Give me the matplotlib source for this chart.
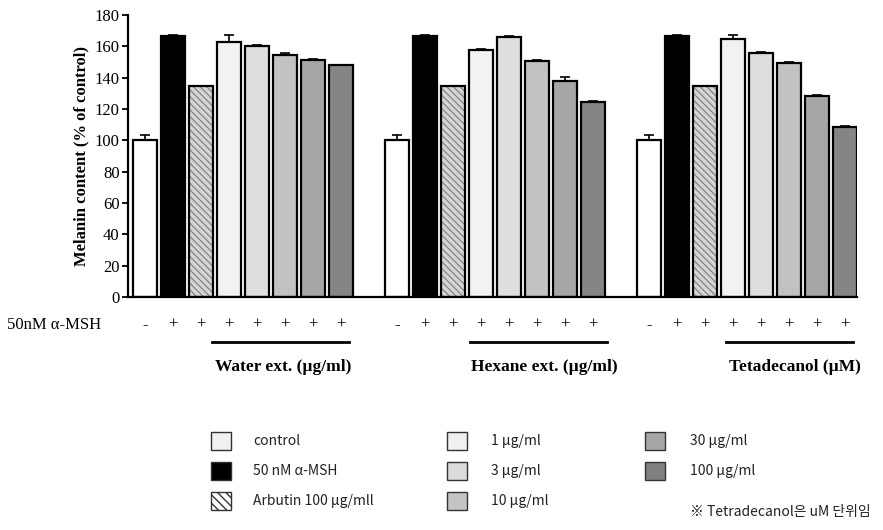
import matplotlib.pyplot as plt
import numpy as np
from matplotlib.patches import Rectangle
from matplotlib.transforms import blended_transform_factory

# data
treatments = ["control", "50 nM α-MSH", "Arbutin 100 µg/mll",
              "1 µg/ml", "3 µg/ml", "10 µg/ml", "30 µg/ml", "100 µg/ml"]
groups = ["Water ext. (µg/ml)", "Hexane ext. (µg/ml)", "Tetadecanol (µM)"]
water = [100, 166.5, 134.5, 163, 160.5, 154.5, 151.5, 148]
hexane = [100, 166.5, 134.5, 157.5, 166, 150.5, 138, 124.5]
tetra = [100, 166.5, 134.5, 164.5, 156, 149.5, 128, 108.5]
water_err = [3.5, 0.5, 0.5, 4.5, 0.3, 1.5, 0.3, 0.3]
hexane_err = [3.5, 0.5, 0.5, 0.5, 0.3, 0.5, 2.5, 0.5]
tetra_err = [3.5, 0.5, 0.5, 2.5, 0.3, 0.3, 1.0, 0.5]
msh_signs = ["-", "+", "+", "+", "+", "+", "+", "+"]
yticks = [0, 20, 40, 60, 80, 100, 120, 140, 160, 180]

colors = ["white", "black", "#d6d6d6", "#f2f2f2", "#dedede",
          "#c2c2c2", "#a6a6a6", "#858585"]

SERIF = ["Liberation Serif", "DejaVu Serif"]
SANS = ["Noto Sans CJK KR", "DejaVu Sans"]

fig = plt.figure(figsize=(8.83, 5.3), dpi=100)
ax = fig.add_axes([128 / 883, 1 - 297 / 530, 729 / 883, 282 / 530])

width = 0.86
n = len(treatments)
all_vals = [water, hexane, tetra]
all_errs = [water_err, hexane_err, tetra_err]

for g, (vals, errs) in enumerate(zip(all_vals, all_errs)):
    x = np.arange(n) + g * (n + 1)
    for i in range(n):
        if i == 2:
            # hatched arbutin bar, hatch drawn in grey under a black outline
            ax.bar(x[i], vals[i], width, color=colors[i], edgecolor="#8a8a8a",
                   linewidth=0, hatch="\\\\\\\\\\", zorder=2)
            ax.bar(x[i], vals[i], width, fill=False, edgecolor="black",
                   linewidth=1.6, zorder=3)
        else:
            ax.bar(x[i], vals[i], width, color=colors[i], edgecolor="black",
                   linewidth=1.6, zorder=2)
    ax.errorbar(x, vals, yerr=[np.zeros(n), errs], fmt="none", ecolor="black",
                elinewidth=1.2, capsize=3.5, capthick=1.2, zorder=1)

ax.set_xlim(-0.607, 25.43)
ax.set_ylim(0, 180)
ax.set_yticks(yticks)
ax.set_xticks([])
for lab in ax.get_yticklabels():
    lab.set_fontfamily(SERIF)
    lab.set_fontsize(12)
ax.tick_params(axis="y", direction="out", length=4, width=1.3, pad=2)
ax.spines["top"].set_visible(False)
ax.spines["right"].set_visible(False)
ax.spines["left"].set_linewidth(1.6)
ax.spines["bottom"].set_linewidth(1.6)
ax.set_ylabel("Melanin content (% of control)", fontfamily=SERIF,
              fontweight="bold", fontsize=12, labelpad=4)

# treatment rows under the axis
tr = blended_transform_factory(ax.transData, fig.transFigure)
fig.text(7 / 883, 1 - 325 / 530, "50nM α-MSH", family=SERIF, fontsize=12,
         va="center", ha="left")
underlines = [(2.4, 7.3), (11.6, 16.5), (20.75, 25.3)]
label_x = [4.95, 14.25, 23.2]
for g in range(3):
    x = np.arange(n) + g * (n + 1)
    for xi, s in zip(x, msh_signs):
        ax.text(xi, 1 - 325 / 530, s, transform=tr, ha="center", va="center",
                family=SERIF, fontsize=12)
    x0, x1 = underlines[g]
    ax.plot([x0, x1], [1 - 342 / 530] * 2, transform=tr, color="black",
            lw=2, clip_on=False)
    ax.text(label_x[g], 1 - 367 / 530, groups[g], transform=tr, ha="center",
            va="center", family=SERIF, fontweight="bold", fontsize=12.5)

# legend drawn on a pixel-scaled overlay
lax = fig.add_axes([0, 0, 1, 1])
lax.set_xlim(0, 883)
lax.set_ylim(530, 0)
lax.axis("off")
leg_cols = [(211, 253), (447, 491), (645, 690)]
leg_rows = [441, 471, 501]
leg_hatch = [None, None, "\\\\\\\\", None, None, None, None, None]
leg_face = ["#f0f0f0", "black", "white", "#f0f0f0", "#dcdcdc",
            "#c4c4c4", "#a6a6a6", "#808080"]
for k, name in enumerate(treatments):
    col, row = divmod(k, 3)
    sx, tx = leg_cols[col]
    sy = leg_rows[row]
    lax.add_patch(Rectangle((sx, sy - 9), 20, 18, facecolor=leg_face[k],
                            edgecolor="#333333", linewidth=1.0,
                            hatch=leg_hatch[k]))
    lax.text(tx, sy, name, family=SANS, fontsize=10, va="center", ha="left",
             color="#222222")
lax.text(690, 512, "※ Tetradecanol은 uM 단위임", family=SANS, fontsize=10,
         va="center", ha="left", color="#222222")

fig.savefig("out.png", dpi=100)
